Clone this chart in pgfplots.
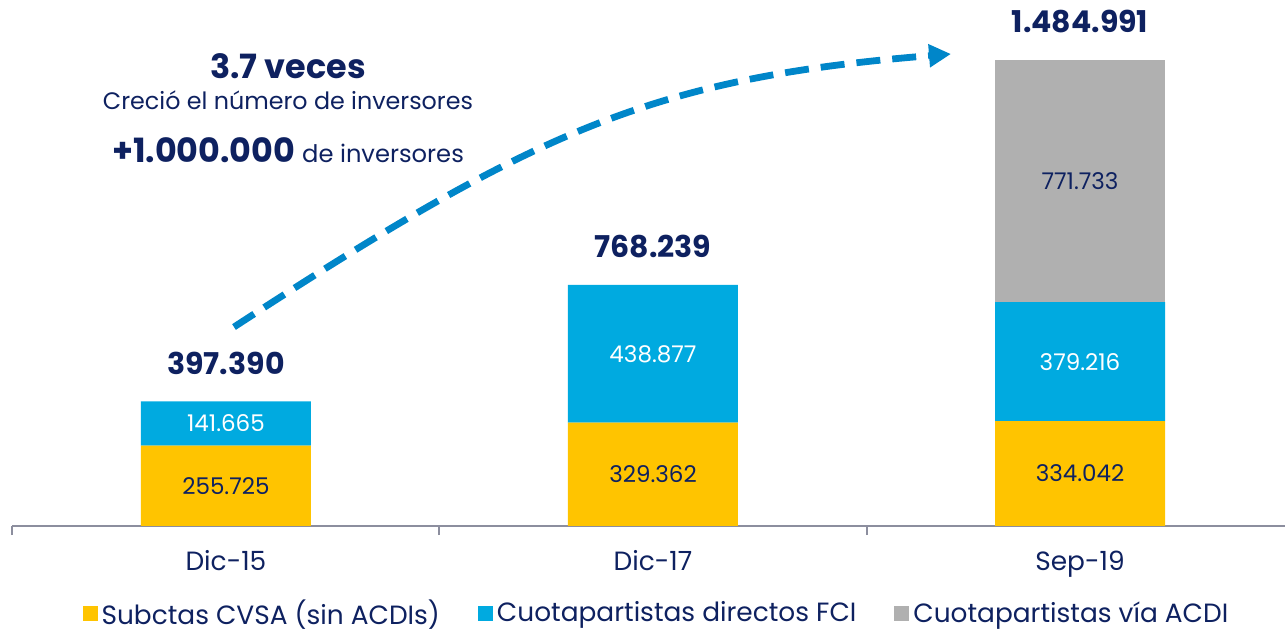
\documentclass[border=0pt]{standalone}
\usepackage{fontspec}
\setmainfont{Poppins}
\usepackage{pgfplots}
\pgfplotsset{compat=1.18}
\usetikzlibrary{arrows.meta}
\definecolor{cyel}{RGB}{255,196,0}
\definecolor{cblu}{RGB}{0,170,224}
\definecolor{cgry}{RGB}{176,176,176}
\definecolor{cnavy}{RGB}{14,33,96}
\definecolor{carrow}{RGB}{0,134,201}
\definecolor{caxis}{RGB}{140,142,158}
\pgfplotsset{sqleg/.style={legend image code/.code={\fill[##1] (0pt,-3.75pt) rectangle (7.5pt,3.75pt);}}}
\tikzset{seg/.style={font=\fontsize{11.5}{14}\selectfont, text=cnavy},
         segw/.style={font=\fontsize{11.5}{14}\selectfont, text=white},
         tot/.style={font=\fontsize{15}{17}\selectfont\bfseries, text=cnavy, yshift=19pt}}
\begin{document}
\begin{tikzpicture}
\begin{axis}[
  at={(6pt,52.5pt)}, anchor=south west, scale only axis,
  width=636.5pt, height=263pt,
  xmin=-0.501, xmax=2.48, ymin=0, ymax=1676000,
  enlargelimits=false, clip=false,
  ybar stacked, bar width=85pt,
  axis x line*=bottom, axis y line=none,
  x axis line style={caxis, line width=1pt},
  xtick={0,1,2}, xticklabels={Dic-15,Dic-17,Sep-19},
  major x tick style={draw=none},
  extra x ticks={-0.5,0.5,1.5},
  extra x tick labels={},
  extra x tick style={tick align=outside, major tick length=4.5pt,
    major x tick style={draw=caxis, line width=1pt}},
  xticklabel style={font=\fontsize{13.2}{16}\selectfont, text=cnavy, anchor=base, yshift=-22.5pt},
  legend style={at={(0.507,-0.166)}, anchor=center, draw=none, fill=none,
    legend columns=3, font=\fontsize{13.2}{15}\selectfont, text=cnavy,
    /tikz/every even column/.append style={column sep=17pt}},
  legend cell align=left,
]
\addplot[fill=cyel, draw=none, sqleg]
  coordinates {(0,255725) (1,329362) (2,334042)};
\addplot[fill=cblu, draw=none, sqleg]
  coordinates {(0,141665) (1,438877) (2,379216)};
\addplot[fill=cgry, draw=none, sqleg]
  coordinates {(0,0) (1,0) (2,771733)};
\legend{Subctas CVSA (sin ACDIs),Cuotapartistas directos FCI,Cuotapartistas vía ACDI}
\coordinate (a1) at (axis cs:0,127862);
\coordinate (a2) at (axis cs:0,326557);
\coordinate (b1) at (axis cs:1,164681);
\coordinate (b2) at (axis cs:1,548800);
\coordinate (c1) at (axis cs:2,167021);
\coordinate (c2) at (axis cs:2,523650);
\coordinate (c3) at (axis cs:2,1099125);
\coordinate (ta) at (axis cs:0,397390);
\coordinate (tb) at (axis cs:1,768239);
\coordinate (tc) at (axis cs:2,1484991);
\end{axis}
\node[seg]  at (a1) {255.725};
\node[segw] at (a2) {141.665};
\node[seg]  at (b1) {329.362};
\node[segw] at (b2) {438.877};
\node[seg]  at (c1) {334.042};
\node[segw] at (c2) {379.216};
\node[seg]  at (c3) {771.733};
\node[tot] at (ta) {397.390};
\node[tot] at (tb) {768.239};
\node[tot] at (tc) {1.484.991};
\begin{scope}[x=0.5pt,y=-0.5pt,shift={(0,315.5pt)}]
\draw[carrow, line width=3.4pt, dash pattern=on 12pt off 6pt, -{Triangle[length=11pt,width=11pt]}]
  (234,327) .. controls (534,132) and (651,78) .. (951,54);
\node[font=\fontsize{16.7}{18}\selectfont\bfseries, text=cnavy] at (288,66) {3.7 veces};
\node[font=\fontsize{11.9}{14}\selectfont, text=cnavy] at (288,100) {Creció el número de inversores};
\node[text=cnavy] at (288,150) {\fontsize{16.7}{18}\selectfont\bfseries +1.000.000 \fontsize{12.1}{14}\selectfont\mdseries de inversores};
\end{scope}
\pgfresetboundingbox
\path (0,0) rectangle (642.5pt,315.5pt);
\end{tikzpicture}
\end{document}
